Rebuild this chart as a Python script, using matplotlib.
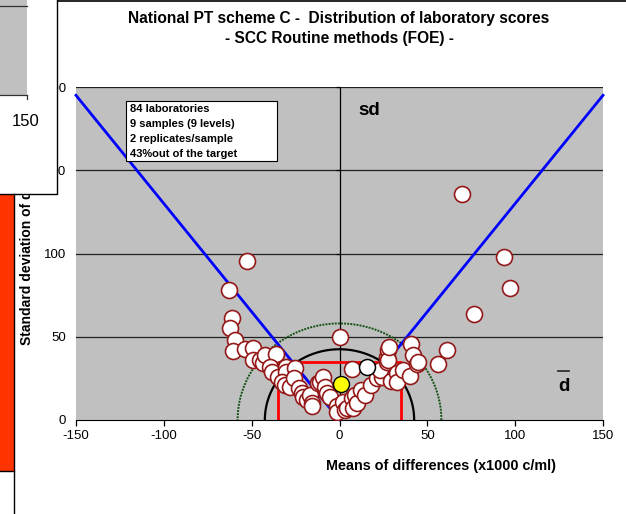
import numpy as np
import matplotlib
matplotlib.use("Agg")
import matplotlib.pyplot as plt
from matplotlib.patches import Rectangle
from matplotlib.lines import Line2D
from matplotlib.transforms import Bbox

plt.rcParams['font.family'] = ['Liberation Sans', 'DejaVu Sans']
plt.rcParams['axes.unicode_minus'] = False

# laboratory scores: mean of differences vs standard deviation of differences
mean_diff = [-52.5, -62.7, -61.4, -62.3, -59.5, -60.4, -53.8, -49.0, -49.0, -45.0,
             -43.4, -42.4, -36.3, -39.5, -38.6, -35.0, -30.4, -30.4, -25.3, -32.9,
             -31.0, -28.2, -26.0, -23.0, -21.5, -20.6, -18.7, -16.8, -15.8, -15.8,
             -12.0, -11.1, -9.2, -8.0, -7.3, -5.4, -1.3, -1.6, 0.5, 2.2,
             3.1, 4.1, 6.9, 7.9, 8.8, 10.0, 7.0, 12.0, 14.5, 17.8,
             21.2, 24.0, 23.0, 26.9, 26.9, 27.8, 27.8, 28.3, 29.3, 32.6,
             32.6, 36.0, 40.1, 40.7, 42.0, 44.3, 44.9, 56.2, 61.0, 76.7,
             97.0, 93.8, 69.5]
sd_diff = [95.5, 78.0, 61.5, 55.0, 48.0, 41.5, 42.5, 43.0, 36.0, 36.0,
           34.0, 39.0, 39.5, 32.0, 29.0, 26.0, 32.0, 29.0, 31.0, 23.0,
           21.0, 19.6, 25.0, 19.0, 16.0, 14.0, 12.0, 15.0, 10.0, 8.5,
           22.0, 23.0, 26.0, 20.0, 16.0, 14.0, 8.4, 5.0, 50.0, 11.0,
           6.0, 7.0, 13.0, 7.0, 15.0, 10.0, 30.5, 18.0, 15.0, 21.0,
           25.0, 26.0, 30.0, 38.0, 35.0, 42.0, 36.0, 44.0, 23.6, 28.0,
           23.0, 30.0, 26.4, 45.5, 39.0, 33.6, 35.0, 33.5, 42.0, 63.7,
           79.0, 97.7, 135.7]

# reference laboratory and overall mean
ref_lab = (15.5, 32.0)
overall = (0.7, 21.5)

# acceptance limits
limit_x = [-150, 0, 150]
limit_sd = [195, 0, 195]
target_x = [-35, -35, 35, 35]
target_sd = [0, 35, 35, 0]
radius_inner = 42.5
radius_outer = 58.0

info_lines = ['84 laboratories', '9 samples (9 levels)', '2 replicates/sample',
              '43%out of the target']

W, H = 626, 514
fig = plt.figure(figsize=(W / 100, H / 100), dpi=100)

def fx(x):
    return x / W

def fy(y):
    return 1 - y / H

ax = fig.add_axes([fx(76), fy(420), (603 - 76) / W, (420 - 87) / H])
ax.set_facecolor('#C0C0C0')
ax.set_xlim(-150, 150)
ax.set_ylim(0, 200)

for v in [50, 100, 150, 200]:
    ax.axhline(v, color='#202020', lw=0.9, zorder=1)
ax.axvline(0, color='black', lw=0.9, zorder=1)
ax.plot([0] * 4, [50, 100, 150, 200], ls='none', marker=0, ms=3, color='black',
        mew=0.9, clip_on=False, zorder=1)

theta = np.linspace(0, np.pi, 200)
ax.plot(radius_outer * np.cos(theta), radius_outer * np.sin(theta),
        color='#145214', lw=1.4, ls=(0, (1.0, 0.6)), zorder=2)
ax.plot(radius_inner * np.cos(theta), radius_inner * np.sin(theta),
        color='black', lw=1.6, zorder=2)
ax.plot(target_x, target_sd, color='#FF0000', lw=2.0, zorder=2)
ax.plot(limit_x, limit_sd, color='#0000FF', lw=2.0, zorder=3, clip_on=False)

ax.plot(mean_diff, sd_diff, ls='none', marker='o', ms=11.5, mfc='white',
        mec='#941818', mew=1.2, zorder=4)
ax.plot(*ref_lab, marker='o', ms=11.5, mfc='white', mec='black', mew=1.1, zorder=5)
ax.plot(*overall, marker='o', ms=11.5, mfc='#FFFF00', mec='black', mew=1.0, zorder=5)

for s in ['left', 'right', 'top']:
    ax.spines[s].set_visible(False)
ax.spines['bottom'].set_color('black')
ax.set_xticks([-150, -100, -50, 0, 50, 100, 150])
ax.set_yticks([0, 50, 100, 150, 200])
ax.tick_params(axis='x', direction='out', length=4, width=0.9, labelsize=9.5, pad=3)
ax.tick_params(axis='y', length=0, labelsize=9.5, pad=7)

ax.text(17, 186, 'sd', fontsize=13.5, fontweight='bold', ha='center', va='center')
ax.text(127.5, 20, 'd', fontsize=13.5, fontweight='bold', ha='center', va='center')
ax.plot([124.5, 130.5], [29.5, 29.5], color='#303030', lw=1.3)

# information box
fig.add_artist(Rectangle((fx(126), fy(161)), (277 - 126) / W, 60 / H,
                         fc='white', ec='black', lw=0.8, zorder=6))
for i, line in enumerate(info_lines):
    fig.text(fx(130), fy(109 + 15 * i), line, fontsize=8, fontweight='bold',
             ha='left', va='center', zorder=7)

fig.text(fx(339), fy(18), 'National PT scheme C -  Distribution of laboratory scores',
         fontsize=11.2, fontweight='bold', ha='center', va='center')
fig.text(fx(339), fy(39), '- SCC Routine methods (FOE) -',
         fontsize=11.2, fontweight='bold', ha='center', va='center')
fig.text(fx(441), fy(466), 'Means of differences (x1000 c/ml)',
         fontsize=10.4, fontweight='bold', ha='center', va='center')
ylab = fig.text(fx(27), fy(345), 'Standard deviation of differences (x1000 c/ml)',
                fontsize=10, fontweight='bold', rotation=90, ha='center', va='bottom')
ylab.set_clip_box(Bbox.from_extents(0, 0, W, H - 195))

# neighbouring panels at the left edge
fig.add_artist(Line2D([fx(57), 1], [fy(0.5), fy(0.5)], color='black', lw=1.2))
fig.add_artist(Rectangle((0, fy(194)), fx(57), 194 / H, fc='white', ec='none', zorder=10))
fig.add_artist(Rectangle((0, fy(95)), fx(26.5), 95 / H, fc='#C0C0C0', ec='none', zorder=11))
fig.add_artist(Line2D([0, fx(26.5)], [fy(6), fy(6)], color='#303030', lw=0.9, zorder=12))
fig.add_artist(Line2D([0, fx(26.5)], [fy(95), fy(95)], color='#303030', lw=0.9, zorder=12))
fig.add_artist(Line2D([fx(26.5), fx(26.5)], [fy(95), fy(99)], color='#303030', lw=0.9, zorder=12))
fig.text(fx(26), fy(121), '150', fontsize=12, ha='center', va='center', zorder=12)
fig.add_artist(Line2D([fx(57), fx(57), 0], [1, fy(194), fy(194)], color='black', lw=1.0, zorder=12))
fig.add_artist(Rectangle((0, fy(471)), fx(14), (471 - 194) / H, fc='#FF3300', ec='none', zorder=10))
fig.add_artist(Line2D([fx(14), fx(14)], [fy(194), 0], color='black', lw=1.0, zorder=12))
fig.add_artist(Line2D([0, fx(14)], [fy(471), fy(471)], color='black', lw=1.0, zorder=12))

fig.savefig('out.png', dpi=100)
